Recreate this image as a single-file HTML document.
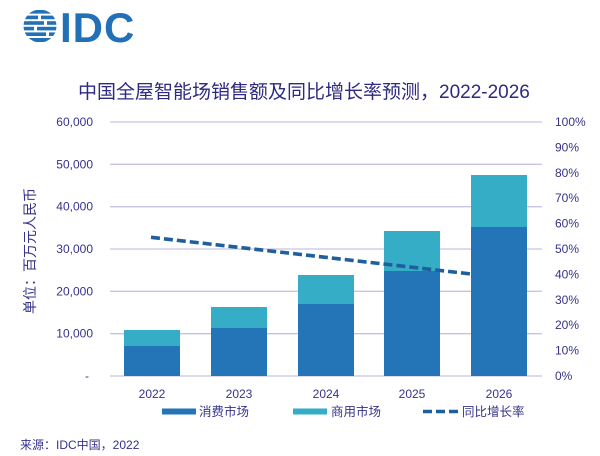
<!DOCTYPE html>
<html><head><meta charset="utf-8"><style>
html,body{margin:0;padding:0;background:#fff;}
svg{display:block;}
text{font-family:"Liberation Sans","Noto Sans CJK SC",sans-serif;}
</style></head><body>
<svg width="600" height="456" viewBox="0 0 600 456" xmlns="http://www.w3.org/2000/svg">
<rect width="600" height="456" fill="#fff"/>
<!-- logo -->
<defs><clipPath id="g"><circle cx="40" cy="26" r="16.5"/></clipPath></defs>
<g clip-path="url(#g)" fill="#2270b7">
<rect x="22" y="10" width="36" height="3.6"/>
<rect x="22" y="15.6" width="16" height="3.6"/><rect x="41" y="15.6" width="17" height="3.6"/>
<rect x="22" y="21.2" width="22" height="3.6"/><rect x="47" y="21.2" width="11" height="3.6"/>
<rect x="22" y="26.8" width="12" height="3.6"/><rect x="37" y="26.8" width="21" height="3.6"/>
<rect x="22" y="32.4" width="24" height="3.6"/><rect x="49" y="32.4" width="9" height="3.6"/>
<rect x="22" y="38" width="36" height="4"/>
</g>
<text x="60" y="42" font-size="42" font-weight="bold" fill="#2270b7" letter-spacing="1">IDC</text>
<!-- title -->
<text x="78" y="98" font-size="19" fill="#2d2a80">中国全屋智能场销售额及同比增长率预测，2022-2026</text>
<!-- grid -->
<g stroke="#c5c5e2" stroke-width="1.3">
<line x1="110" y1="122" x2="542" y2="122"/>
<line x1="110" y1="164.3" x2="542" y2="164.3"/>
<line x1="110" y1="206.7" x2="542" y2="206.7"/>
<line x1="110" y1="249" x2="542" y2="249"/>
<line x1="110" y1="291.3" x2="542" y2="291.3"/>
<line x1="110" y1="333.7" x2="542" y2="333.7"/>
<line x1="110" y1="376" x2="542" y2="376"/>
</g>
<!-- left ticks -->
<g font-size="12" fill="#35338a" text-anchor="end">
<text x="93" y="126">60,000</text>
<text x="93" y="168.3">50,000</text>
<text x="93" y="210.7">40,000</text>
<text x="93" y="253">30,000</text>
<text x="93" y="295.3">20,000</text>
<text x="93" y="337.7">10,000</text>
<text x="89" y="380">-</text>
</g>
<!-- right ticks -->
<g font-size="12" fill="#35338a">
<text x="555" y="126">100%</text>
<text x="555" y="151.4">90%</text>
<text x="555" y="176.8">80%</text>
<text x="555" y="202.2">70%</text>
<text x="555" y="227.6">60%</text>
<text x="555" y="253">50%</text>
<text x="555" y="278.4">40%</text>
<text x="555" y="303.8">30%</text>
<text x="555" y="329.2">20%</text>
<text x="555" y="354.6">10%</text>
<text x="555" y="380">0%</text>
</g>
<!-- y axis title -->
<text transform="translate(35,251) rotate(-90)" font-size="14" fill="#35338a" text-anchor="middle">单位：百万元人民币</text>
<!-- bars -->
<g>
<rect x="124" y="330" width="56" height="16" fill="#36adc6"/><rect x="124" y="346" width="56" height="30" fill="#2475b8"/>
<rect x="211" y="307" width="56" height="21" fill="#36adc6"/><rect x="211" y="328" width="56" height="48" fill="#2475b8"/>
<rect x="298" y="275" width="56" height="29" fill="#36adc6"/><rect x="298" y="304" width="56" height="72" fill="#2475b8"/>
<rect x="384" y="231" width="56" height="40" fill="#36adc6"/><rect x="384" y="271" width="56" height="105" fill="#2475b8"/>
<rect x="471" y="175" width="56" height="52" fill="#36adc6"/><rect x="471" y="227" width="56" height="149" fill="#2475b8"/>
</g>
<!-- line -->
<line x1="151" y1="237.3" x2="471" y2="274" stroke="#1f5f9e" stroke-width="3.6" stroke-dasharray="9 4"/>
<!-- x labels -->
<g font-size="12" fill="#35338a" text-anchor="middle">
<text x="152" y="398">2022</text>
<text x="239" y="398">2023</text>
<text x="326" y="398">2024</text>
<text x="412" y="398">2025</text>
<text x="499" y="398">2026</text>
</g>
<!-- legend -->
<rect x="162" y="408.5" width="34" height="6" fill="#2475b8"/>
<text x="199" y="416" font-size="12.5" fill="#35338a">消费市场</text>
<rect x="293" y="408.5" width="34" height="6" fill="#36adc6"/>
<text x="331" y="416" font-size="12.5" fill="#35338a">商用市场</text>
<line x1="423" y1="411.5" x2="458" y2="411.5" stroke="#1f5f9e" stroke-width="3.6" stroke-dasharray="9 4"/>
<text x="462" y="416" font-size="12.5" fill="#35338a">同比增长率</text>
<!-- source -->
<text x="20" y="449" font-size="12" fill="#35338a">来源：IDC中国，2022</text>
</svg>
</body></html>
